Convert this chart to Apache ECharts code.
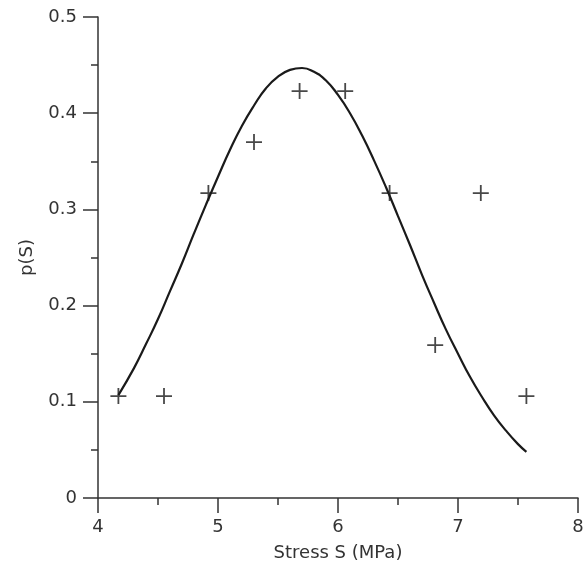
<!DOCTYPE html>
<html>
<head>
<meta charset="utf-8">
<script src="https://cdn.jsdelivr.net/npm/echarts@6/dist/echarts.min.js"></script>
<style>
  html, body { margin: 0; padding: 0; background: #fff; }
  #chart { width: 587px; height: 583px; }
</style>
</head>
<body>
<div id="chart"></div>
<script>
// Puntos medidos (cruces): tension S y densidad p(S)
const stressPoints = [4.17, 4.55, 4.92, 5.30, 5.68, 6.06, 6.43, 6.81, 7.19, 7.57];
const densityPoints = [0.106, 0.106, 0.317, 0.370, 0.423, 0.423, 0.317, 0.159, 0.317, 0.106];

// Curva ajustada
const curveX = [4.17, 4.3, 4.4, 4.5, 4.6, 4.7, 4.8, 4.9, 5.0, 5.1, 5.2, 5.3, 5.4, 5.5, 5.6, 5.7, 5.8, 5.9,
    6.0, 6.1, 6.2, 6.3, 6.4, 6.5, 6.6, 6.7, 6.8, 6.9, 7.0, 7.1, 7.2, 7.3, 7.4, 7.5, 7.57];
const curveY = [0.107, 0.135, 0.160, 0.186, 0.215, 0.244, 0.275, 0.305, 0.334, 0.362, 0.387, 0.408, 0.426, 0.438, 0.445, 0.447, 0.443, 0.434,
    0.419, 0.400, 0.377, 0.351, 0.323, 0.293, 0.263, 0.232, 0.203, 0.175, 0.150, 0.126, 0.105, 0.086, 0.070, 0.056, 0.048];

// Etiquetas de ejes
const xTitle = 'Stress S (MPa)';
const yTitle = 'p(S)';

const font = '"DejaVu Sans", sans-serif';
const ink = '#1a1a1a';
const axisInk = '#333';

const chart = echarts.init(document.getElementById('chart'));

const axisCommon = {
    axisLine: { lineStyle: { color: axisInk, width: 1.5 } },
    axisTick: { show: true, inside: false, length: 15, lineStyle: { color: axisInk, width: 1.5 } },
    minorTick: { show: true, splitNumber: 2, length: 7, lineStyle: { color: axisInk, width: 1.5 } },
    splitLine: { show: false },
    minorSplitLine: { show: false },
    nameLocation: 'middle',
    nameTextStyle: { fontFamily: font, fontSize: 18, color: axisInk }
};

const option = {
    animation: false,
    backgroundColor: '#fff',
    grid: { left: 98, right: 9, top: 17, bottom: 85 },
    xAxis: Object.assign({}, axisCommon, {
        type: 'value',
        min: 4,
        max: 8,
        interval: 1,
        name: xTitle,
        nameGap: 46,
        axisLabel: { fontFamily: font, fontSize: 18, color: axisInk, margin: 20 }
    }),
    yAxis: Object.assign({}, axisCommon, {
        type: 'value',
        min: 0,
        max: 0.5,
        interval: 0.1,
        name: yTitle,
        nameGap: 62,
        nameRotate: 90,
        axisLabel: { fontFamily: font, fontSize: 18, color: axisInk, margin: 21 }
    }),
    series: [
        {
            type: 'line',
            data: curveX.map((x, i) => [x, curveY[i]]),
            smooth: true,
            showSymbol: false,
            symbol: 'none',
            lineStyle: { color: ink, width: 2.2 },
            z: 2
        },
        {
            type: 'scatter',
            data: stressPoints.map((x, i) => [x, densityPoints[i]]),
            symbol: 'path://M-1,0 L1,0 M0,-1 L0,1',
            symbolSize: 16,
            itemStyle: { color: 'none', borderColor: ink, borderWidth: 1.8 },
            z: 3
        }
    ]
};

chart.setOption(option);
</script>
</body>
</html>
